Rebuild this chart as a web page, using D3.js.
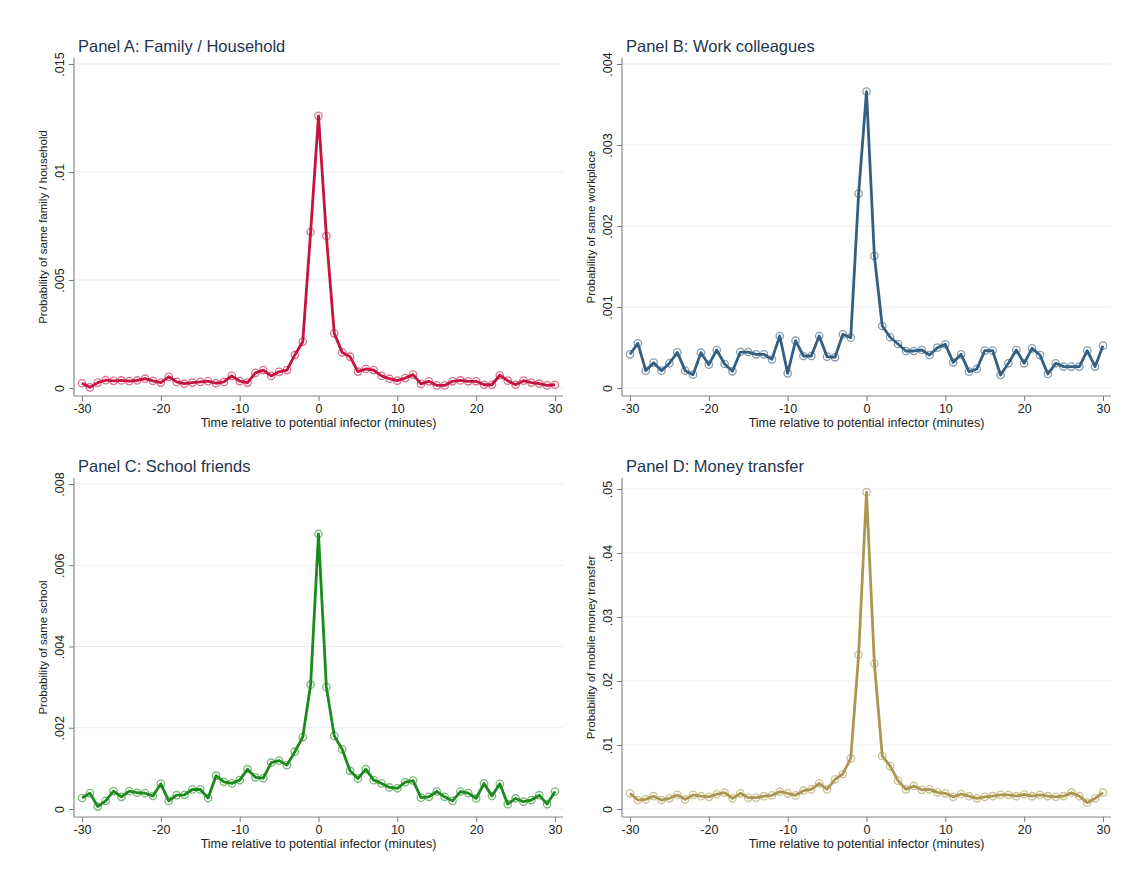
<!DOCTYPE html>
<html><head><meta charset="utf-8">
<script src="https://cdn.jsdelivr.net/npm/d3@7"></script>
<style>body{margin:0;background:#fff}svg{display:block;font-family:Arial,"Liberation Sans",sans-serif}</style>
</head><body><svg id="c" width="1132" height="880"></svg>
<script>
const minutes = [-30,-29,-28,-27,-26,-25,-24,-23,-22,-21,-20,-19,-18,-17,-16,-15,-14,-13,-12,-11,-10,-9,-8,-7,-6,-5,-4,-3,-2,-1,0,1,2,3,4,5,6,7,8,9,10,11,12,13,14,15,16,17,18,19,20,21,22,23,24,25,26,27,28,29,30];
const xTicks = [-30,-20,-10,0,10,20,30];

const familyValues = [0.00022,0.00003,0.00025,0.00036,0.00033,0.00035,0.00032,0.00035,0.00043,0.00033,0.00025,0.00052,0.00028,0.0002,0.00025,0.00028,0.00032,0.00022,0.00028,0.00056,0.00032,0.00025,0.0007,0.00083,0.00056,0.00075,0.00083,0.00153,0.00214,0.00722,0.0126,0.00704,0.00253,0.00165,0.00145,0.00076,0.00088,0.00083,0.00056,0.00043,0.00034,0.00046,0.00062,0.00019,0.00031,0.00012,0.00012,0.00031,0.00035,0.00031,0.00031,0.00015,0.00015,0.00059,0.00034,0.00015,0.00034,0.00025,0.0002,0.00012,0.00015];
const workValues = [0.000416,0.000551,0.000214,0.000313,0.000214,0.000305,0.00044,0.000214,0.000165,0.000436,0.000288,0.000469,0.000296,0.000206,0.000444,0.000444,0.000416,0.000416,0.000354,0.000642,0.000181,0.000584,0.000395,0.000395,0.000642,0.000387,0.000379,0.000663,0.000621,0.0024,0.00366,0.00163,0.000765,0.000626,0.000543,0.000457,0.000457,0.000469,0.000407,0.000498,0.000539,0.000317,0.000416,0.000202,0.000235,0.000461,0.000461,0.00016,0.000305,0.000469,0.000305,0.00049,0.000407,0.000173,0.000305,0.000264,0.000264,0.000264,0.000461,0.000264,0.000523];
const schoolValues = [0.00027,0.00039,0.00006,0.0002,0.00044,0.0003,0.00044,0.0004,0.00039,0.00032,0.00062,0.0002,0.00034,0.00035,0.00048,0.00048,0.00027,0.00082,0.00067,0.00063,0.00071,0.00098,0.00078,0.00076,0.00114,0.00119,0.00108,0.00141,0.00177,0.00306,0.00677,0.003,0.0018,0.00147,0.00094,0.00075,0.00098,0.00071,0.00063,0.00053,0.00051,0.00066,0.0007,0.00028,0.0003,0.00043,0.0003,0.0002,0.00043,0.00039,0.00026,0.00063,0.00032,0.00062,0.00012,0.00026,0.00018,0.00022,0.00034,0.00012,0.00043];
const moneyValues = [0.00245,0.0014,0.00151,0.002,0.0014,0.00167,0.0022,0.0015,0.0022,0.002,0.0019,0.0023,0.00255,0.00167,0.00245,0.00177,0.00177,0.002,0.00214,0.0027,0.00245,0.00214,0.00286,0.00307,0.004,0.00307,0.00464,0.00547,0.0079,0.0241,0.0495,0.0227,0.0083,0.0067,0.00443,0.00307,0.0036,0.003,0.00307,0.0026,0.00245,0.0019,0.00234,0.002,0.00167,0.0019,0.002,0.0022,0.0022,0.002,0.0023,0.002,0.0022,0.002,0.0019,0.002,0.00255,0.002,0.00099,0.00167,0.00255];

const familyTicks = [0,0.005,0.01,0.015];
const workTicks = [0,0.001,0.002,0.003,0.004];
const schoolTicks = [0,0.002,0.004,0.006,0.008];
const moneyTicks = [0,0.01,0.02,0.03,0.04,0.05];

const titles = ["Panel A: Family / Household","Panel B: Work colleagues","Panel C: School friends","Panel D: Money transfer"];
const yTitles = ["Probability of same family / household","Probability of same workplace","Probability of same school","Probability of mobile money transfer"];
const xTitle = "Time relative to potential infector (minutes)";

const panels = [
  {values: familyValues, ticks: familyTicks, color:"#c4143f", col:0, row:0, yTopPx:64},
  {values: workValues, ticks: workTicks, color:"#355f80", col:1, row:0, yTopPx:64},
  {values: schoolValues, ticks: schoolTicks, color:"#1c8a1c", col:0, row:1, yTopPx:484},
  {values: moneyValues, ticks: moneyTicks, color:"#ab9750", col:1, row:1, yTopPx:489},
];

const fmt = v => v===0 ? "0" : String(v).replace(/^0\./, ".");
const svg = d3.select("#c");

panels.forEach((p,i)=>{
  const axX = p.col===0 ? 74 : 622;
  const x0 = axX + 8, x1 = axX + 481;
  const plotRight = axX + 489;
  const base = p.row===0 ? 388 : 809;
  const axY = base + 8;
  const plotTop = p.row===0 ? 58 : 478;
  const x = d3.scaleLinear().domain([-30,30]).range([x0,x1]);
  const y = d3.scaleLinear().domain([0, p.ticks[p.ticks.length-1]]).range([base, p.yTopPx]);
  const g = svg.append("g");

  g.selectAll(".grid").data(p.ticks).join("line")
    .attr("x1", axX).attr("x2", plotRight)
    .attr("y1", d=>y(d)).attr("y2", d=>y(d))
    .attr("stroke","#e8eff2").attr("stroke-width",1);

  const ya = g.append("g").attr("transform",`translate(${axX},0)`)
    .call(d3.axisLeft(y).tickValues(p.ticks).tickFormat(fmt).tickSize(5).tickPadding(4));
  ya.select(".domain").remove();
  ya.selectAll(".tick line").attr("stroke","#777");
  ya.selectAll(".tick text").attr("font-size",12.5).attr("fill","#222")
    .attr("transform","rotate(-90)").attr("text-anchor","middle")
    .attr("x",0).attr("dy",0).attr("y",-10);
  g.append("line").attr("x1",axX).attr("x2",axX).attr("y1",plotTop).attr("y2",axY).attr("stroke","#888").attr("stroke-width",1.2);

  const xa = g.append("g").attr("transform",`translate(0,${axY})`)
    .call(d3.axisBottom(x).tickValues(xTicks).tickFormat(d=>String(d)).tickSize(5).tickPadding(3));
  xa.select(".domain").remove();
  xa.selectAll(".tick line").attr("stroke","#777");
  xa.selectAll(".tick text").attr("font-size",12.5).attr("fill","#222");
  g.append("line").attr("x1",axX).attr("x2",plotRight).attr("y1",axY).attr("y2",axY).attr("stroke","#888").attr("stroke-width",1.2);

  g.append("text").attr("x", axX+4).attr("y", plotTop-6).attr("font-size",16.5).attr("fill","#1e3550").text(titles[i]);
  g.append("text").attr("x", (x0+x1)/2).attr("y", axY+31).attr("text-anchor","middle").attr("font-size",12.5).attr("fill","#222").text(xTitle);
  g.append("text").attr("transform",`translate(${axX-27},${(plotTop+axY)/2}) rotate(-90)`).attr("text-anchor","middle").attr("font-size",11.5).attr("fill","#222").text(yTitles[i]);

  const pts = minutes.map((m,k)=>({m, v:p.values[k]}));
  g.append("path").datum(pts)
    .attr("d", d3.line().x(d=>x(d.m)).y(d=>y(d.v)))
    .attr("fill","none").attr("stroke",p.color).attr("stroke-width",2.8).attr("stroke-linejoin","round");
  g.selectAll(".pt").data(pts).join("circle")
    .attr("cx",d=>x(d.m)).attr("cy",d=>y(d.v)).attr("r",3.7)
    .attr("fill","none").attr("stroke",p.color).attr("stroke-opacity",0.6).attr("stroke-width",1.3);
});
</script></body></html>
